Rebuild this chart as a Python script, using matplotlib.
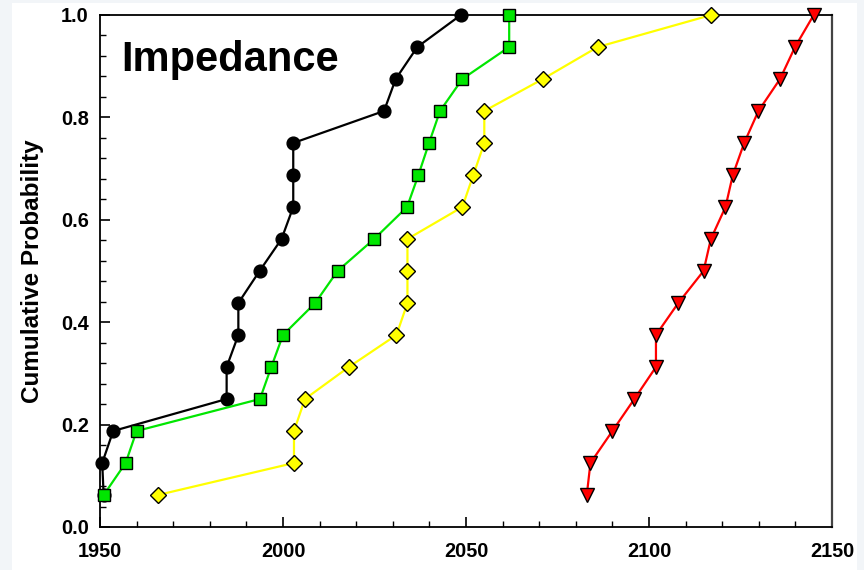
import matplotlib

matplotlib.use("Agg")
import matplotlib.pyplot as plt
from matplotlib.patches import Rectangle
from matplotlib.ticker import MultipleLocator
import numpy as np

plt.rcParams["font.family"] = ["Liberation Sans", "DejaVu Sans"]
plt.rcParams["font.weight"] = "bold"

# cumulative probability levels (16 samples per group)
prob = np.arange(1, 17) / 16.0

black_x = [1951, 1950.6, 1953.6, 1984.6, 1984.6, 1987.8, 1987.8, 1993.6,
           1999.6, 2002.8, 2002.8, 2002.8, 2027.6, 2030.8, 2036.7, 2048.6]
green_x = [1951, 1957, 1960, 1993.7, 1996.8, 2000, 2008.8, 2014.9,
           2024.9, 2033.9, 2037, 2039.9, 2042.9, 2049, 2061.8, 2061.8]
yellow_x = [1965.8, 2003, 2003, 2006, 2018, 2031, 2034, 2034,
            2034, 2049, 2052, 2055, 2055, 2071, 2086, 2117]
red_x = [2083, 2084, 2090, 2096, 2101.9, 2101.9, 2108, 2114.9,
         2116.9, 2120.9, 2122.9, 2126, 2129.9, 2135.8, 2139.9, 2145]

series = [
    (black_x, "#000000", "o", 9.2, "#000000"),
    (green_x, "#00e600", "s", 8.6, "#000000"),
    (yellow_x, "#ffff00", "D", 7.8, "#000000"),
    (red_x, "#ff0000", "v", 9.5, "#000000"),
]

fig = plt.figure(figsize=(8.64, 5.70), dpi=100, facecolor="#f2f5f8")
fig.patches.append(Rectangle((12 / 864, 0), 845 / 864, 567 / 570,
                             transform=fig.transFigure, facecolor="white",
                             edgecolor="none", zorder=-5))
ax = fig.add_axes([100 / 864, 1 - 527 / 570, 732 / 864, 512 / 570])
ax.set_zorder(2)
ax.set_facecolor("white")

for xs, c, m, ms, ec in series:
    ax.plot(xs, prob, color=c, lw=1.6, marker=m, ms=ms, mfc=c, mec=ec,
            mew=1.0, clip_on=False, zorder=3)

ax.set_xlim(1950, 2150)
ax.set_ylim(0, 1.0)
ax.xaxis.set_major_locator(MultipleLocator(50))
ax.xaxis.set_minor_locator(MultipleLocator(10))
ax.yaxis.set_major_locator(MultipleLocator(0.2))
ax.yaxis.set_minor_locator(MultipleLocator(0.04))
ax.yaxis.set_major_formatter(plt.FormatStrFormatter("%.1f"))
ax.tick_params(axis="both", which="major", direction="in", length=7,
               width=1.2, labelsize=14.3)
ax.tick_params(axis="x", which="major", pad=11)
ax.tick_params(axis="y", which="major", pad=8)
ax.tick_params(axis="both", which="minor", direction="in", length=4, width=1.0)
ax.tick_params(top=False, right=False, which="both")
for lbl in ax.get_xticklabels() + ax.get_yticklabels():
    lbl.set_fontweight("bold")

for side in ["left", "bottom", "top"]:
    ax.spines[side].set_color("#000000")
    ax.spines[side].set_linewidth(1.3)
ax.spines["right"].set_color("#444444")
ax.spines["right"].set_linewidth(1.6)

ax.set_ylabel("Cumulative Probability", fontsize=17.5, fontweight="bold",
              labelpad=12)
ax.text(1955.7, 0.89, "Impedance", fontsize=30, fontweight="bold",
        ha="left", va="baseline")

fig.savefig("out.png", dpi=100, facecolor=fig.get_facecolor())
